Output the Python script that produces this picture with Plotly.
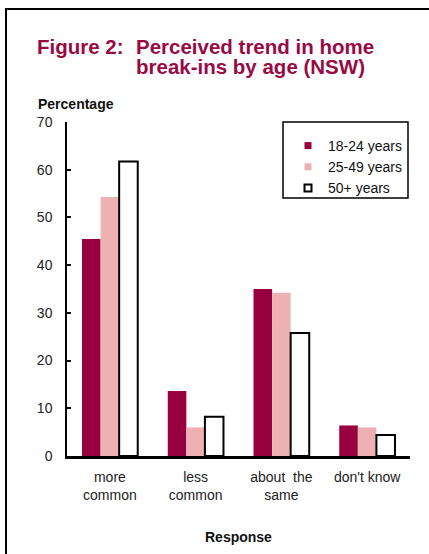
import plotly.graph_objects as go

# categories and series (percent of respondents)
responses = ["more<br>common", "less<br>common", "about  the<br>same", "don't know"]
age_groups = ["18-24 years", "25-49 years", "50+ years"]
age_18_24 = [45.5, 13.6, 35.0, 6.4]
age_25_49 = [54.3, 6.0, 34.2, 6.0]
age_50_plus = [61.7, 8.2, 25.8, 4.4]
y_ticks = [0, 10, 20, 30, 40, 50, 60, 70]

series = [age_18_24, age_25_49, age_50_plus]
fills = ["#990040", "#edb1b4", "white"]
outlines = ["#990040", "#edb1b4", "black"]

W, H = 429, 554
# plot area in pixels
L, R, T, B = 67, 410, 122, 456


def xp(x):
    return (x - L) / (R - L)


def yp(y):
    return (B - y) / (B - T)


FONT = "Liberation Sans, Arial, sans-serif"
TITLE_COLOR = "#990a44"

fig = go.Figure()

for name, vals, fc, lc in zip(age_groups, series, fills, outlines):
    fig.add_trace(go.Bar(
        x=responses,
        y=vals,
        name=name,
        marker=dict(color=fc, line=dict(color=lc, width=2 if fc == "white" else 0)),
        showlegend=False,
    ))
    # small square legend keys
    fig.add_trace(go.Scatter(
        x=[None], y=[None],
        mode="markers",
        name=name,
        marker=dict(symbol="square", size=7, color=fc,
                    line=dict(color=lc, width=2 if fc == "white" else 0)),
    ))

annotations = [
    dict(text="<b>Figure 2:</b>", x=xp(35), y=yp(46), xanchor="left", yanchor="middle",
         font=dict(size=20.5, color=TITLE_COLOR)),
    dict(text="<b>Perceived trend in home</b>", x=xp(134), y=yp(46), xanchor="left",
         yanchor="middle", font=dict(size=20.5, color=TITLE_COLOR)),
    dict(text="<b>break-ins by age (NSW)</b>", x=xp(134), y=yp(66), xanchor="left",
         yanchor="middle", font=dict(size=20.5, color=TITLE_COLOR)),
    dict(text="<b>Percentage</b>", x=xp(36), y=yp(104), xanchor="left", yanchor="middle",
         font=dict(size=14, color="#111")),
    dict(text="<b>Response</b>", x=0.5, y=yp(537), xanchor="center", yanchor="middle",
         font=dict(size=14, color="#111")),
]
for a in annotations:
    a.update(xref="paper", yref="paper", showarrow=False)

shapes = [
    # outer frame (runs off the right and bottom edges)
    dict(type="rect", xref="paper", yref="paper",
         x0=xp(6), x1=xp(445), y0=yp(575), y1=yp(9),
         line=dict(color="black", width=2), layer="below"),
    # legend box
    dict(type="rect", xref="paper", yref="paper",
         x0=xp(283), x1=xp(408), y0=yp(198), y1=yp(122),
         line=dict(color="black", width=1.5)),
]

fig.update_layout(
    width=W, height=H,
    margin=dict(l=L, r=W - R, t=T, b=H - B),
    paper_bgcolor="white",
    plot_bgcolor="white",
    font=dict(family=FONT, size=14, color="#222"),
    barmode="group",
    bargap=0.35,
    bargroupgap=0,
    showlegend=True,
    legend=dict(x=xp(288), y=yp(130), xanchor="left", yanchor="top",
                bgcolor="rgba(0,0,0,0)", borderwidth=0,
                font=dict(size=14, color="#111"), itemwidth=30),
    annotations=annotations,
    shapes=shapes,
    xaxis=dict(
        showline=True, linecolor="black", linewidth=3,
        ticks="", showgrid=False, zeroline=False,
        tickfont=dict(size=14, color="#222"),
        ticklabelstandoff=6,
    ),
    yaxis=dict(
        range=[0, 70], tickvals=y_ticks,
        showline=True, linecolor="black", linewidth=1.5,
        ticks="inside", ticklen=4, tickwidth=1.5, tickcolor="black",
        showgrid=False, zeroline=False,
        tickfont=dict(size=14, color="#222"),
        ticklabelstandoff=10,
    ),
)

# drop the default page margin so the figure sits at the window origin
fig.write_html("out.html", config={"displayModeBar": False},
               post_script="document.body.style.margin='0';")
